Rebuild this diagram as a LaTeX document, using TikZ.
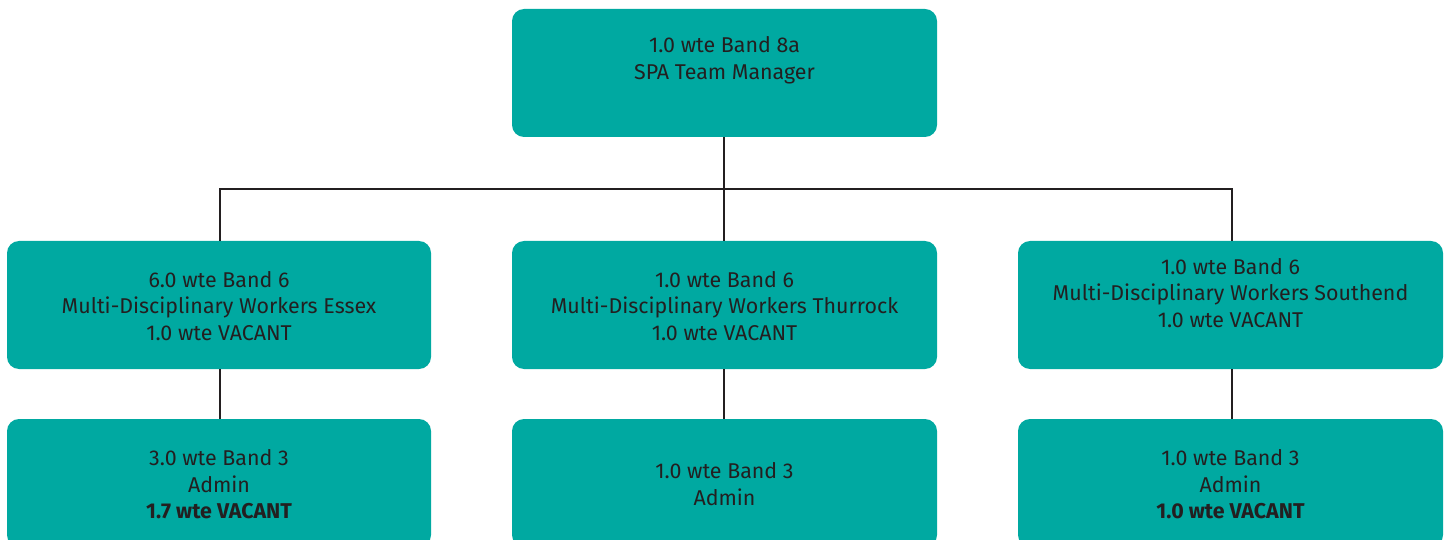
\documentclass[tikz,border=0pt]{standalone}
\usepackage{fontspec}
\setmainfont{Fira Sans}
\definecolor{teal1}{HTML}{00A9A1}
\definecolor{ink}{HTML}{231F20}
\begin{document}
\begin{tikzpicture}[x=1pt,y=-1pt,
  box/.style={draw=none,fill=teal1,rounded corners=12pt,minimum width=425pt,minimum height=128pt,inner sep=0pt},
  txt/.style={align=center,text=ink,font=\fontsize{21.4}{26.5}\selectfont,inner sep=0pt},
  link/.style={draw=ink,line width=2.6pt}]
\useasboundingbox (0,0) rectangle (1451,540);
% boxes
\node[box] (top) at (724.5,73) {};
\node[box,minimum width=424pt] (mL) at (219,305) {};
\node[box] (mC) at (724.5,305) {};
\node[box] (mR) at (1230.5,305) {};
\node[box,minimum width=424pt] (bL) at (219,483) {};
\node[box] (bC) at (724.5,483) {};
\node[box] (bR) at (1230.5,483) {};
% texts
\node[txt] (tTop) at (724.5,60.5) {1.0 wte Band 8a\\SPA Team Manager};
\node[txt] (tmL) at (219,306) {6.0 wte Band 6\\Multi-Disciplinary Workers Essex\\1.0 wte VACANT};
\node[txt] (tmC) at (724.5,306) {1.0 wte Band 6\\Multi-Disciplinary Workers Thurrock\\1.0 wte VACANT};
\node[txt] (tmR) at (1230.5,293) {1.0 wte Band 6\\Multi-Disciplinary Workers Southend\\1.0 wte VACANT};
\node[txt] (tbL) at (219,484.5) {3.0 wte Band 3\\Admin\\\textbf{1.7 wte VACANT}};
\node[txt] (tbC) at (724.5,484) {1.0 wte Band 3\\Admin};
\node[txt] (tbR) at (1230.5,484.5) {1.0 wte Band 3\\Admin\\\textbf{1.0 wte VACANT}};
% connectors
\coordinate (bus) at (724,189);
\draw[link] (top.south -| bus) -- (bus);
\draw[link] (mL.north -| 220,0) -- (220,189) -- (1232,189) -- (mR.north -| 1232,0);
\draw[link] (bus) -- (mC.north -| bus);
\draw[link] (mL.south -| 220,0) -- (bL.north -| 220,0);
\draw[link] (mC.south -| 724,0) -- (bC.north -| 724,0);
\draw[link] (mR.south -| 1232,0) -- (bR.north -| 1232,0);
\end{tikzpicture}
\end{document}
